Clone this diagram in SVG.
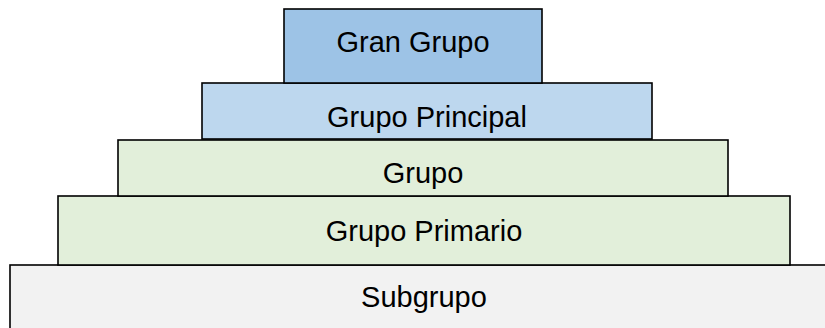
<svg xmlns="http://www.w3.org/2000/svg" width="825" height="328" viewBox="0 0 825 328">
<style>
rect{stroke:#000;stroke-width:1.6}
text{font-family:"Liberation Sans",Arial,sans-serif;font-size:29px;fill:#000;text-anchor:middle}
</style>
<rect width="825" height="328" fill="#fff" style="stroke:none"/>
<g id="subgrupo"><rect x="10" y="265" width="830" height="80" fill="#F2F2F2"/><text x="424" y="306.5">Subgrupo</text></g>
<g id="grupo-primario"><rect x="58" y="196" width="732" height="69" fill="#E2EFDA"/><text x="424" y="241">Grupo Primario</text></g>
<g id="grupo"><rect x="118" y="140" width="610" height="56" fill="#E2EFDA"/><text x="423" y="182.5">Grupo</text></g>
<g id="grupo-principal"><rect x="202" y="83" width="450" height="56" fill="#BDD7EE"/><text x="427" y="126.5">Grupo Principal</text></g>
<g id="gran-grupo"><rect x="284" y="9" width="258" height="74" fill="#9DC3E6"/><text x="413" y="52">Gran Grupo</text></g>
<g id="connectors"/>
</svg>
